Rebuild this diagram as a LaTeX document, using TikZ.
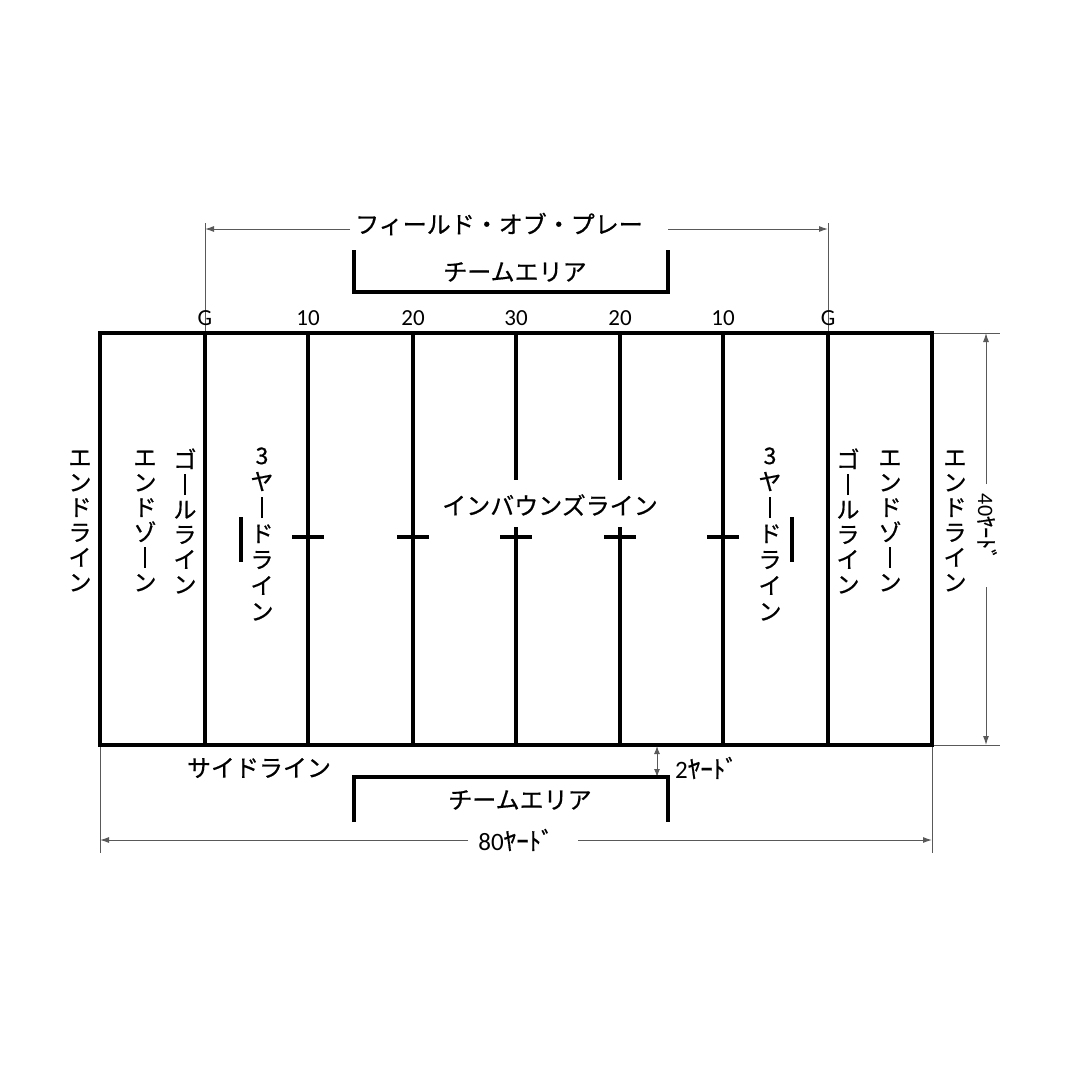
\documentclass[tikz,border=0pt]{standalone}
\usepackage{fontspec}
\setmainfont{Carlito}
\newfontfamily\cjk[FakeBold=0.6]{Noto Sans CJK JP}
\usetikzlibrary{arrows.meta}
\newcommand\vbar{\raisebox{-2pt}{\rule{2pt}{21pt}}}
\begin{document}
\begin{tikzpicture}[x=1pt,y=-1pt,
  fieldline/.style={line width=3.6pt,line cap=rect},
  thinline/.style={line width=1pt,draw=black!65},
  dimarrow/.style={thinline,-{Latex[length=9pt,width=6pt]}},
  dimboth/.style={thinline,{Latex[length=8pt,width=6pt]}-{Latex[length=8pt,width=6pt]}},
  jlabel/.style={font=\cjk\fontsize{24}{26}\selectfont,inner sep=0pt},
  vlabel/.style={font=\cjk\fontsize{23}{25}\selectfont,inner sep=0pt,align=center},
  vlabelb/.style={font=\cjk\fontsize{23}{26}\selectfont,inner sep=0pt,align=center},
  yardnum/.style={font=\fontsize{23}{25}\selectfont,inner sep=0pt},
  dimtext/.style={font=\fontsize{25}{27}\selectfont,inner sep=0pt},
  dimtextv/.style={font=\fontsize{22}{24}\selectfont,inner sep=0pt}
]
\useasboundingbox (0,0) rectangle (1080,1080);
\fill[white] (0,0) rectangle (1080,1080);

% coordinates of yard lines
\foreach \n/\x in {g1/205,t1/308,w1/413,h/516,w2/620,t2/723,g2/828}{
  \coordinate (\n top) at (\x,333);
  \coordinate (\n bot) at (\x,745);
}
\coordinate (fl) at (100,333);
\coordinate (fr) at (932,745);

% field of play dimension
\coordinate (fpL) at (205,223);
\coordinate (fpR) at (828,223);
\draw[thinline] (fpL) -- (g1top);
\draw[thinline] (fpR) -- (g2top);
\node[jlabel] (fop) at (499,224) {フィールド・オブ・プレー};
\coordinate (fpa) at (205,229);
\coordinate (fpb) at (828,229);
\coordinate (fpc) at (350,229);
\coordinate (fpd) at (668,229);
\draw[dimarrow] (fpc) -- (fpa);
\draw[dimarrow] (fpd) -- (fpb);

% top team area
\coordinate (ta1) at (354,250);
\coordinate (ta2) at (354,292);
\coordinate (ta3) at (668,292);
\coordinate (ta4) at (668,250);
\draw[line width=3.6pt] (ta1) -- (ta2) -- (ta3) -- (ta4);
\node[jlabel] (team1) at (515,272) {チームエリア};

% yard numbers
\node[yardnum] (ng1) at (205,318) {G};
\node[yardnum] (nt1) at (308,318) {10};
\node[yardnum] (nw1) at (413,318) {20};
\node[yardnum] (nh) at (516,318) {30};
\node[yardnum] (nw2) at (620,318) {20};
\node[yardnum] (nt2) at (723,318) {10};
\node[yardnum] (ng2) at (828,318) {G};

% field outline and lines
\draw[line width=3.6pt] (fl) rectangle (fr);
\draw[fieldline] (g1top) -- (g1bot);
\draw[fieldline] (t1top) -- (t1bot);
\draw[fieldline] (w1top) -- (w1bot);
\draw[fieldline] (t2top) -- (t2bot);
\draw[fieldline] (g2top) -- (g2bot);
\coordinate (hA) at (516,478);
\coordinate (hB) at (516,529);
\coordinate (wA) at (620,478);
\coordinate (wB) at (620,529);
\draw[fieldline] (htop) -- (hA);
\draw[fieldline] (hB) -- (hbot);
\draw[fieldline] (w2top) -- (wA);
\draw[fieldline] (wB) -- (w2bot);

% inbounds hash marks
\foreach \x in {308,413,516,620,723}{
  \draw[line width=3.4pt] (\x-16,537) -- (\x+16,537);
}
% 3 yard lines
\coordinate (ty1a) at (241,517);
\coordinate (ty1b) at (241,562);
\coordinate (ty2a) at (792,517);
\coordinate (ty2b) at (792,562);
\draw[line width=3.6pt] (ty1a) -- (ty1b);
\draw[line width=3.6pt] (ty2a) -- (ty2b);

\node[jlabel] (inb) at (550,505) {インバウンズライン};

% vertical labels
\node[vlabel] (endL) at (80,521) {エ\\ン\\ド\\ラ\\イ\\ン};
\node[vlabel] (ezL) at (145,521) {エ\\ン\\ド\\ゾ\\\vbar\\ン};
\node[vlabel] (glL) at (185,521) {ゴ\\\vbar\\ル\\ラ\\イ\\ン};
\node[vlabelb] (tyL) at (262,534) {3\\ヤ\\\vbar\\ド\\ラ\\イ\\ン};
\node[vlabelb] (tyR) at (770,534) {3\\ヤ\\\vbar\\ド\\ラ\\イ\\ン};
\node[vlabel] (glR) at (848,521) {ゴ\\\vbar\\ル\\ラ\\イ\\ン};
\node[vlabel] (ezR) at (890,521) {エ\\ン\\ド\\ゾ\\\vbar\\ン};
\node[vlabel] (endR) at (955,521) {エ\\ン\\ド\\ラ\\イ\\ン};

% 40 yard dimension
\coordinate (e1a) at (934,333);
\coordinate (e1b) at (1000,333);
\coordinate (e2a) at (934,745);
\coordinate (e2b) at (1000,745);
\draw[thinline] (e1a) -- (e1b);
\draw[thinline] (e2a) -- (e2b);
\node[dimtextv,rotate=-90] (forty) at (987,527) {40{\cjk ﾔｰﾄﾞ}};
\coordinate (fa) at (986,333);
\coordinate (fb) at (986,745);
\coordinate (fc) at (986,484);
\coordinate (fd) at (986,587);
\draw[dimarrow] (fc) -- (fa);
\draw[dimarrow] (fd) -- (fb);

% sideline label
\node[jlabel] (side) at (259,768) {サイドライン};

% 2 yard
\coordinate (twA) at (657,746);
\coordinate (twB) at (657,777);
\draw[dimboth] (twA) -- (twB);
\node[dimtext,anchor=west] (two) at (675,768) {2{\cjk ﾔｰﾄﾞ}};

% bottom team area
\coordinate (tb1) at (354,822);
\coordinate (tb2) at (354,777);
\coordinate (tb3) at (668,777);
\coordinate (tb4) at (668,822);
\draw[line width=3.6pt] (tb1) -- (tb2) -- (tb3) -- (tb4);
\node[jlabel] (team2) at (520,800) {チームエリア};

% 80 yard dimension
\coordinate (x1a) at (100,747);
\coordinate (x1b) at (100,853);
\coordinate (x2a) at (932,747);
\coordinate (x2b) at (932,853);
\draw[thinline] (x1a) -- (x1b);
\draw[thinline] (x2a) -- (x2b);
\node[dimtext] (eighty) at (516,840) {80{\cjk ﾔｰﾄﾞ}};
\coordinate (ea) at (100,840);
\coordinate (eb) at (932,840);
\coordinate (ec) at (468,840);
\coordinate (ed) at (578,840);
\draw[dimarrow] (ec) -- (ea);
\draw[dimarrow] (ed) -- (eb);
\end{tikzpicture}
\end{document}
